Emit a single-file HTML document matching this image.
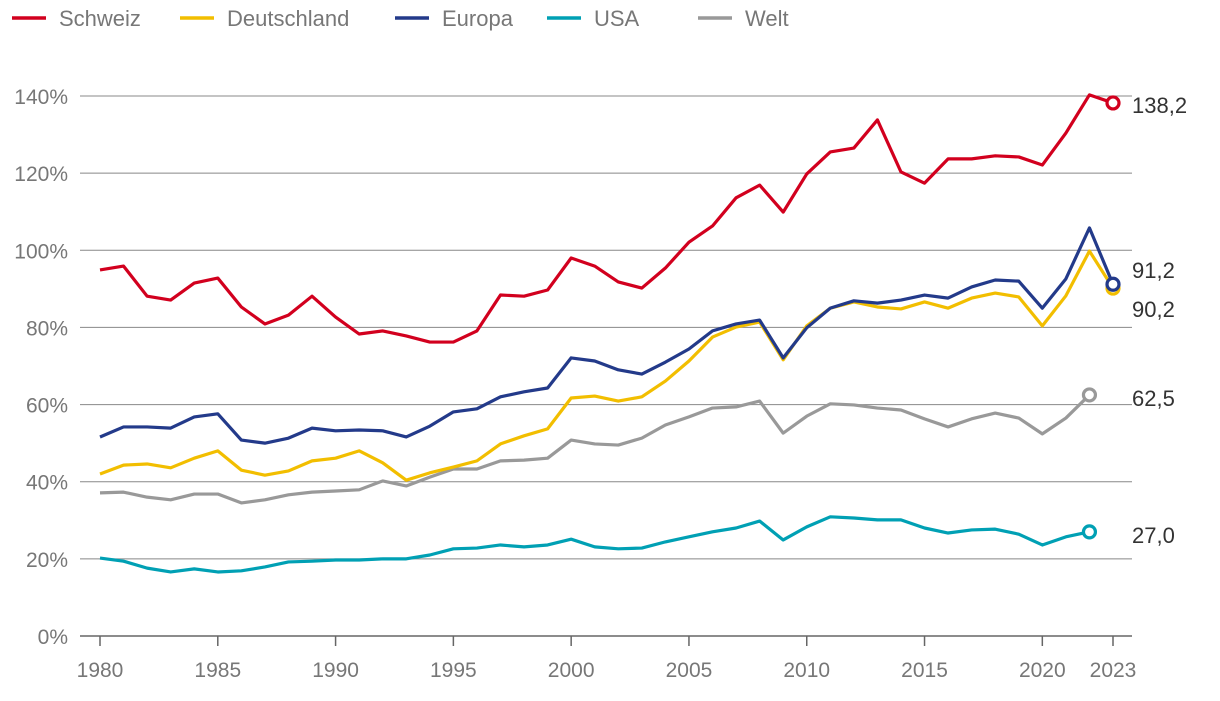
<!DOCTYPE html>
<html><head><meta charset="utf-8"><style>
body{margin:0;background:#fff;font-family:"Liberation Sans",sans-serif}
svg text{font-family:"Liberation Sans",sans-serif}
</style></head><body>
<svg id="c" width="1220" height="696"></svg>
<script>
const years=[];for(let y=1980;y<=2023;y++)years.push(y);
const schweiz=[94.9,95.9,88.1,87.1,91.5,92.8,85.3,80.9,83.2,88.1,82.7,78.3,79.1,77.8,76.2,76.2,79.1,88.4,88.1,89.7,98,95.9,91.8,90.2,95.4,102.1,106.3,113.6,116.9,109.9,119.8,125.5,126.5,133.8,120.3,117.4,123.7,123.7,124.5,124.2,122.1,130.4,140.3,138.2];
const deutschland=[42,44.3,44.6,43.6,46.1,48,43,41.7,42.8,45.4,46.1,48,44.9,40.4,42.3,43.8,45.4,49.8,51.9,53.7,61.7,62.2,60.9,62,66.1,71.3,77.5,80.1,81.4,71.6,80.4,85,86.6,85.3,84.8,86.6,85,87.6,88.9,87.9,80.4,88.2,99.8,90.2];
const europa=[51.6,54.2,54.2,53.9,56.8,57.6,50.8,50,51.3,53.9,53.2,53.4,53.2,51.6,54.4,58.1,58.9,62,63.3,64.3,72.1,71.3,69,67.9,71,74.4,79.1,80.9,81.9,72.1,79.9,85,86.9,86.3,87.1,88.4,87.6,90.5,92.3,92,85,92.6,105.8,91.2];
const usa=[20.2,19.4,17.6,16.6,17.4,16.6,16.9,17.9,19.2,19.4,19.7,19.7,20,20,21,22.6,22.8,23.6,23.1,23.6,25.1,23.1,22.6,22.8,24.4,25.7,27,28,29.8,24.9,28.3,30.9,30.6,30.1,30.1,28,26.7,27.5,27.7,26.4,23.6,25.7,27];
const welt=[37.1,37.3,36,35.3,36.8,36.8,34.5,35.3,36.6,37.3,37.6,37.9,40.2,38.9,41.2,43.3,43.3,45.4,45.6,46.1,50.8,49.8,49.5,51.3,54.7,56.8,59.1,59.4,60.9,52.6,57,60.2,59.9,59.1,58.6,56.3,54.2,56.3,57.8,56.5,52.4,56.5,62.5];
const yTicks=[0,20,40,60,80,100,120,140];
const xTicks=[1980,1985,1990,1995,2000,2005,2010,2015,2020,2023];
const series=[
 {name:"Schweiz",data:schweiz,color:"#d2001e",label:"138,2",ldy:10},
 {name:"Deutschland",data:deutschland,color:"#f2be00",label:"90,2",ldy:29},
 {name:"Europa",data:europa,color:"#233a8a",label:"91,2",ldy:-6},
 {name:"USA",data:usa,color:"#00a0b4",label:"27,0",ldy:11},
 {name:"Welt",data:welt,color:"#999999",label:"62,5",ldy:11}];
const X=y=>100+(y-1980)*(1013/43);
const Y=v=>636-v*(540/140);
const svg=document.getElementById('c');const NS="http://www.w3.org/2000/svg";
function mk(t,a,p){const e=document.createElementNS(NS,t);for(const k in a)e.setAttribute(k,a[k]);(p||svg).appendChild(e);return e;}
yTicks.forEach(v=>{
 const l=mk('line',{x1:80,x2:1132,y1:Y(v),y2:Y(v),stroke:v==0?'#666':'#888','stroke-width':v==0?1.5:1});
 
 
 const t=mk('text',{x:68,y:Y(v)+8,'text-anchor':'end','font-size':21,fill:'#777'});t.textContent=v+'%';
 
 
});
xTicks.forEach(y=>{
 const l=mk('line',{x1:X(y),x2:X(y),y1:636,y2:646,stroke:'#666','stroke-width':1.5});
 
 
 const t=mk('text',{x:X(y),y:677,'text-anchor':'middle','font-size':21,fill:'#777'});t.textContent=y;
 
 
});
const order=[4,3,1,2,0];
order.forEach(i=>{const s=series[i];
 const pts=s.data.map((v,j)=>X(years[j])+','+Y(v)).join(' ');
 const p=mk('polyline',{points:pts,fill:'none',stroke:s.color,'stroke-width':3.2,'stroke-linejoin':'round'});
 
 
 const n=s.data.length-1;const cx=X(years[n]),cy=Y(s.data[n]);
 const c=mk('circle',{cx:cx,cy:cy,r:6,fill:'#fff',stroke:s.color,'stroke-width':3.2});
 
 
 const t=mk('text',{x:1132,y:cy+s.ldy,'font-size':22,fill:'#333'});t.textContent=s.label;
 
 
});
const lx=[12,180,395,547,698];
series.forEach((s,i)=>{
 const g=mk('g',{});
 
 
 mk('line',{x1:lx[i],x2:lx[i]+34,y1:18,y2:18,stroke:s.color,'stroke-width':3.5},g);
 const t=mk('text',{x:lx[i]+47,y:26,'font-size':22,fill:'#777'},g);t.textContent=s.name;
});
</script>
</body></html>
